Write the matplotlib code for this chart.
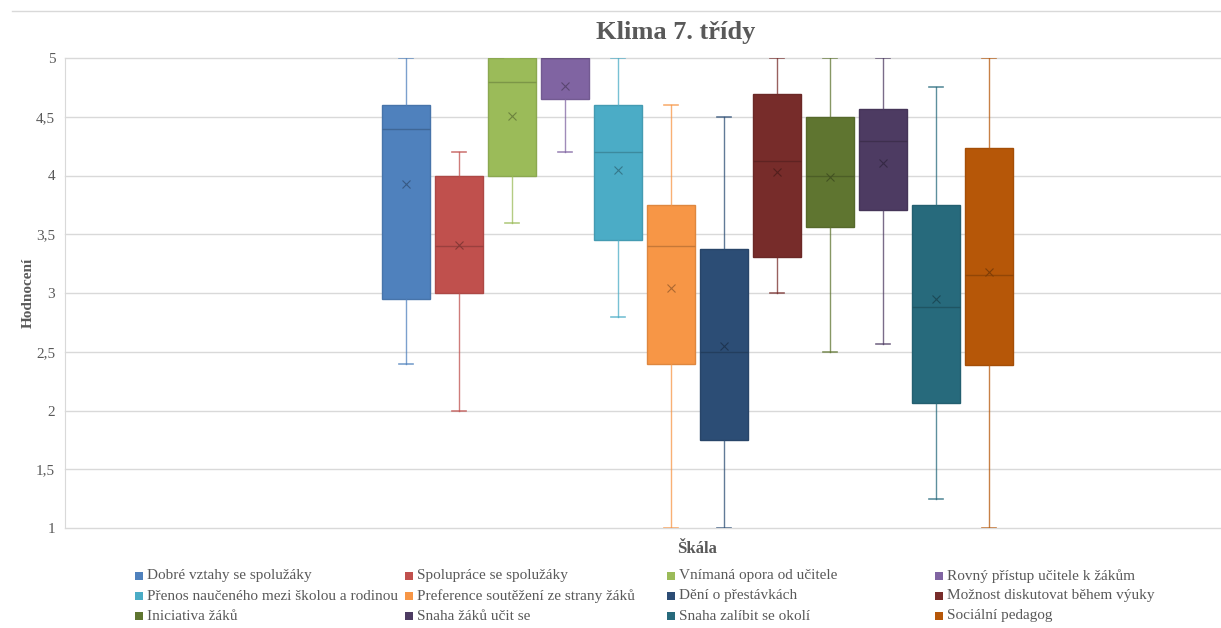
import numpy as np
import matplotlib.pyplot as plt
from matplotlib.patches import Rectangle
from matplotlib.lines import Line2D

plt.rcParams['font.family'] = ['Liberation Serif', 'DejaVu Serif']

labels = ['Dobré vztahy se spolužáky', 'Spolupráce se spolužáky', 'Vnímaná opora od učitele',
          'Rovný přístup učitele k žákům', 'Přenos naučeného mezi školou a rodinou',
          'Preference soutěžení ze strany žáků', 'Dění o přestávkách', 'Možnost diskutovat během výuky',
          'Iniciativa žáků', 'Snaha žáků učit se', 'Snaha zalíbit se okolí', 'Sociální pedagog']
colors = ['#4F81BD', '#C0504D', '#9BBB59', '#8064A2', '#4BACC6', '#F79646',
          '#2C4D75', '#772C2A', '#5F7530', '#4D3B62', '#276A7C', '#B65708']

whislo = [2.4, 2.0, 3.6, 4.2, 2.8, 1.0, 1.0, 3.0, 2.5, 2.57, 1.25, 1.0]
q1 = [2.95, 3.0, 4.0, 4.65, 3.45, 2.4, 1.75, 3.31, 3.56, 3.71, 2.06, 2.39]
med = [4.4, 3.4, 4.8, 5.0, 4.2, 3.4, 2.5, 4.12, 4.0, 4.29, 2.88, 3.15]
q3 = [4.6, 4.0, 5.0, 5.0, 4.6, 3.75, 3.375, 4.69, 4.5, 4.57, 3.75, 4.23]
whishi = [5.0, 4.2, 5.0, 5.0, 5.0, 4.6, 4.5, 5.0, 5.0, 5.0, 4.75, 5.0]
means = [3.93, 3.41, 4.51, 4.76, 4.05, 3.04, 2.55, 4.03, 3.99, 4.11, 2.95, 3.18]

yticks = [1, 1.5, 2, 2.5, 3, 3.5, 4, 4.5, 5]
text_col = '#595959'


def darker(c, f=0.75):
    r, g, b = plt.matplotlib.colors.to_rgb(c)
    return (r * f, g * f, b * f)


fig = plt.figure(figsize=(12.21, 6.28), dpi=100)
W, H = 1221, 628
ax = fig.add_axes([65 / W, 100 / H, (W - 65) / W, 470 / H])

for i, c in enumerate(colors):
    st = dict(med=med[i], q1=q1[i], q3=q3[i], whislo=whislo[i], whishi=whishi[i],
              mean=means[i], fliers=[])
    ax.bxp([st], positions=[i + 1], widths=0.9, patch_artist=True, showmeans=True,
           boxprops=dict(facecolor=c, edgecolor=darker(c, 0.9), linewidth=1),
           medianprops=dict(color=darker(c, 0.8), linewidth=1),
           whiskerprops=dict(color=c, linewidth=1, alpha=0.75),
           capprops=dict(color=c, linewidth=1.2, alpha=0.75),
           meanprops=dict(marker='x', markeredgecolor=darker(c, 0.7), markersize=6,
                          markeredgewidth=0.8), capwidths=0.27,
           zorder=3)

# x range: boxes start at 406 px, 53 px apart
ax.set_xlim(1 + (65 - 406) / 53, 1 + (W - 406) / 53)
ax.set_ylim(1, 5)
ax.set_yticks(yticks)
ax.set_yticklabels([f'{v:g}'.replace('.', ',') for v in yticks], color=text_col, fontsize=11)
ax.set_xticks([])
ax.tick_params(axis='y', length=0, pad=7)
ax.grid(axis='y', color='#D9D9D9', linewidth=1, zorder=0, clip_on=False)
for s in ['top', 'right', 'bottom']:
    ax.spines[s].set_visible(False)
ax.spines['left'].set_color('#D9D9D9')
ax.set_axisbelow(True)

fig.text(676 / W, 1 - 32 / H, 'Klima 7. třídy', ha='center', va='center',
         fontsize=19, fontweight='bold', color=text_col)
fig.text(28 / W, 1 - 293 / H, 'Hodnocení', ha='center', va='center', rotation=90,
         fontsize=11, fontweight='bold', color=text_col)
fig.text(697 / W, 1 - 549 / H, 'Škála', ha='center', va='center',
         fontsize=12, fontweight='bold', color=text_col)

# chart border line at top
fig.add_artist(Line2D([12 / W, 1], [1 - 11 / H, 1 - 11 / H], color='#D9D9D9', linewidth=1))

# legend in 4 equal columns
col_x = [135, 405, 667, 935]
row_y = [576, 596, 616]
for i, (lab, c) in enumerate(zip(labels, colors)):
    x0 = col_x[i % 4]
    y0 = row_y[i // 4]
    fig.add_artist(Rectangle((x0 / W, (H - y0 - 4) / H), 8 / W, 8 / H, facecolor=c,
                             edgecolor='none', transform=fig.transFigure))
    fig.text((x0 + 12) / W, 1 - y0 / H, lab, ha='left', va='center', fontsize=11,
             color=text_col)

fig.savefig('out.png', dpi=100)
